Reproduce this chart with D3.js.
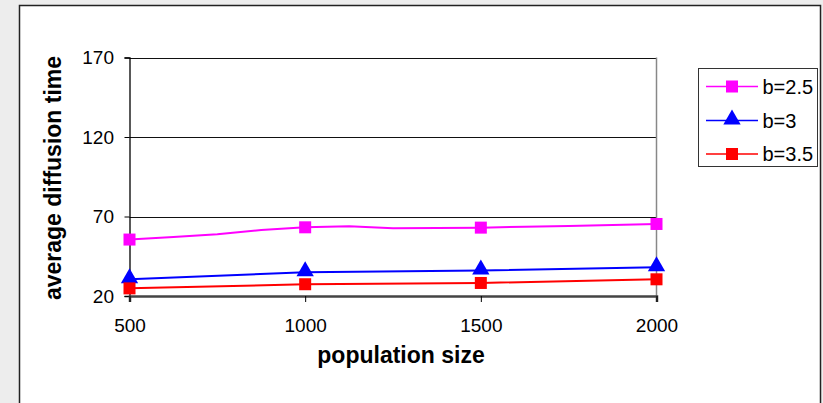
<!DOCTYPE html>
<html><head><meta charset="utf-8">
<script src="https://cdn.jsdelivr.net/npm/d3@7"></script>
<style>
html,body{margin:0;padding:0;background:#ededed;}
svg{display:block;font-family:Arial,"Liberation Sans",sans-serif;}
</style></head>
<body>
<svg id="c" width="823" height="403"></svg>
<script>
const xTicks = [500, 1000, 1500, 2000];
const yTicks = [20, 70, 120, 170];
const popFine = [500, 625, 750, 875, 1000, 1125, 1250, 1375, 1500, 1625, 1750, 1875, 2000];
const b25 = [55.5, 57.1, 58.8, 61.5, 63.2, 63.8, 62.6, 62.8, 63.0, 63.6, 64.1, 64.7, 65.3];
const popMarkers = [500, 1000, 1500, 2000];
const b3 = [30.5, 34.9, 36.0, 38.1];
const b35 = [24.8, 27.4, 28.2, 30.5];
const seriesNames = ["b=2.5", "b=3", "b=3.5"];
const colors = ["#ff00ff", "#0000ff", "#ff0000"];

const FONT = "Arial,'Liberation Sans',sans-serif";
const svg = d3.select("#c");
// outer chart box
svg.append("rect").attr("x",19.5).attr("y",5.5).attr("width",801).attr("height",410)
  .attr("fill","#fff").attr("stroke","#222").attr("stroke-width",1.5);

const x = d3.scaleLinear().domain([500,2000]).range([129.5,656.5]);
const y = d3.scaleLinear().domain([20,170]).range([296,57.5]);

// gridlines
svg.append("g").selectAll("line").data(yTicks.slice(1)).join("line")
  .attr("x1",x(500)).attr("x2",x(2000)).attr("y1",d=>Math.round(y(d))+0.5).attr("y2",d=>Math.round(y(d))+0.5)
  .attr("stroke","#111").attr("stroke-width",1);
// right plot border
svg.append("line").attr("x1",x(2000)).attr("x2",x(2000)).attr("y1",y(170)).attr("y2",y(20))
  .attr("stroke","#888").attr("stroke-width",1.5);

// y axis
const yAxis = d3.axisLeft(y).tickValues(yTicks).tickSize(5).tickPadding(10.5).tickFormat(d3.format("d"));
const gy = svg.append("g").attr("transform",`translate(${x(500)},0)`).call(yAxis);
gy.select(".domain").attr("stroke","#000").attr("stroke-width",1.3);
gy.selectAll(".tick line").attr("stroke","#000");
gy.selectAll("text").attr("font-size",19).attr("fill","#000").attr("font-family",FONT);

// x axis
const xAxis = d3.axisBottom(x).tickValues(xTicks).tickSize(6).tickPadding(16.5).tickFormat(d3.format("d"));
const gx = svg.append("g").attr("transform",`translate(0,${y(20)})`).call(xAxis);
gx.select(".domain").attr("stroke","#444").attr("stroke-width",2.5);
gx.selectAll(".tick line").attr("stroke","#000");
gx.selectAll("text").attr("font-size",19).attr("fill","#000").attr("font-family",FONT);

// axis titles
svg.append("text").attr("x",401).attr("y",363).attr("text-anchor","middle")
  .attr("font-size",23).attr("font-weight","bold").text("population size");
svg.append("text").attr("transform","translate(61,178) rotate(-90)").attr("text-anchor","middle")
  .attr("font-size",23).attr("font-weight","bold").text("average diffusion time");

const line = d3.line().x(d=>x(d[0])).y(d=>y(d[1]));
const data = [
  popFine.map((p,i)=>[p,b25[i]]),
  popMarkers.map((p,i)=>[p,b3[i]]),
  popMarkers.map((p,i)=>[p,b35[i]])
];
const markerPts = [
  popFine.map((p,i)=>[p,b25[i]]).filter(d=>popMarkers.includes(d[0])),
  data[1], data[2]
];
const shapes = ["square","triangle","square"];

function drawMarker(g, shape, cx, cy, color){
  if(shape==="square"){
    g.append("rect").attr("x",cx-6).attr("y",cy-6).attr("width",12).attr("height",12).attr("fill",color);
  } else {
    g.append("path").attr("d",d3.symbol(d3.symbolTriangle, 130)()).attr("transform",`translate(${cx},${cy-1})`).attr("fill",color);
  }
}

data.forEach((s,k)=>{
  svg.append("path").datum(s).attr("d",line).attr("fill","none").attr("stroke",colors[k]).attr("stroke-width",2);
});
data.forEach((s,k)=>{
  const g = svg.append("g");
  markerPts[k].forEach(d=>drawMarker(g, shapes[k], x(d[0]), y(d[1]), colors[k]));
});

// legend
const lg = svg.append("g");
lg.append("rect").attr("x",698.5).attr("y",68.5).attr("width",119).attr("height",98)
  .attr("fill","#fff").attr("stroke","#333").attr("stroke-width",1);
const legY = [86.5, 120.5, 154];
seriesNames.forEach((n,k)=>{
  lg.append("line").attr("x1",706).attr("x2",758).attr("y1",legY[k]).attr("y2",legY[k]).attr("stroke",colors[k]).attr("stroke-width",1.5);
  drawMarker(lg, shapes[k], 732, legY[k], colors[k]);
  lg.append("text").attr("x",762.5).attr("y",legY[k]+7).attr("font-size",20).text(n);
});
</script>
</body></html>
